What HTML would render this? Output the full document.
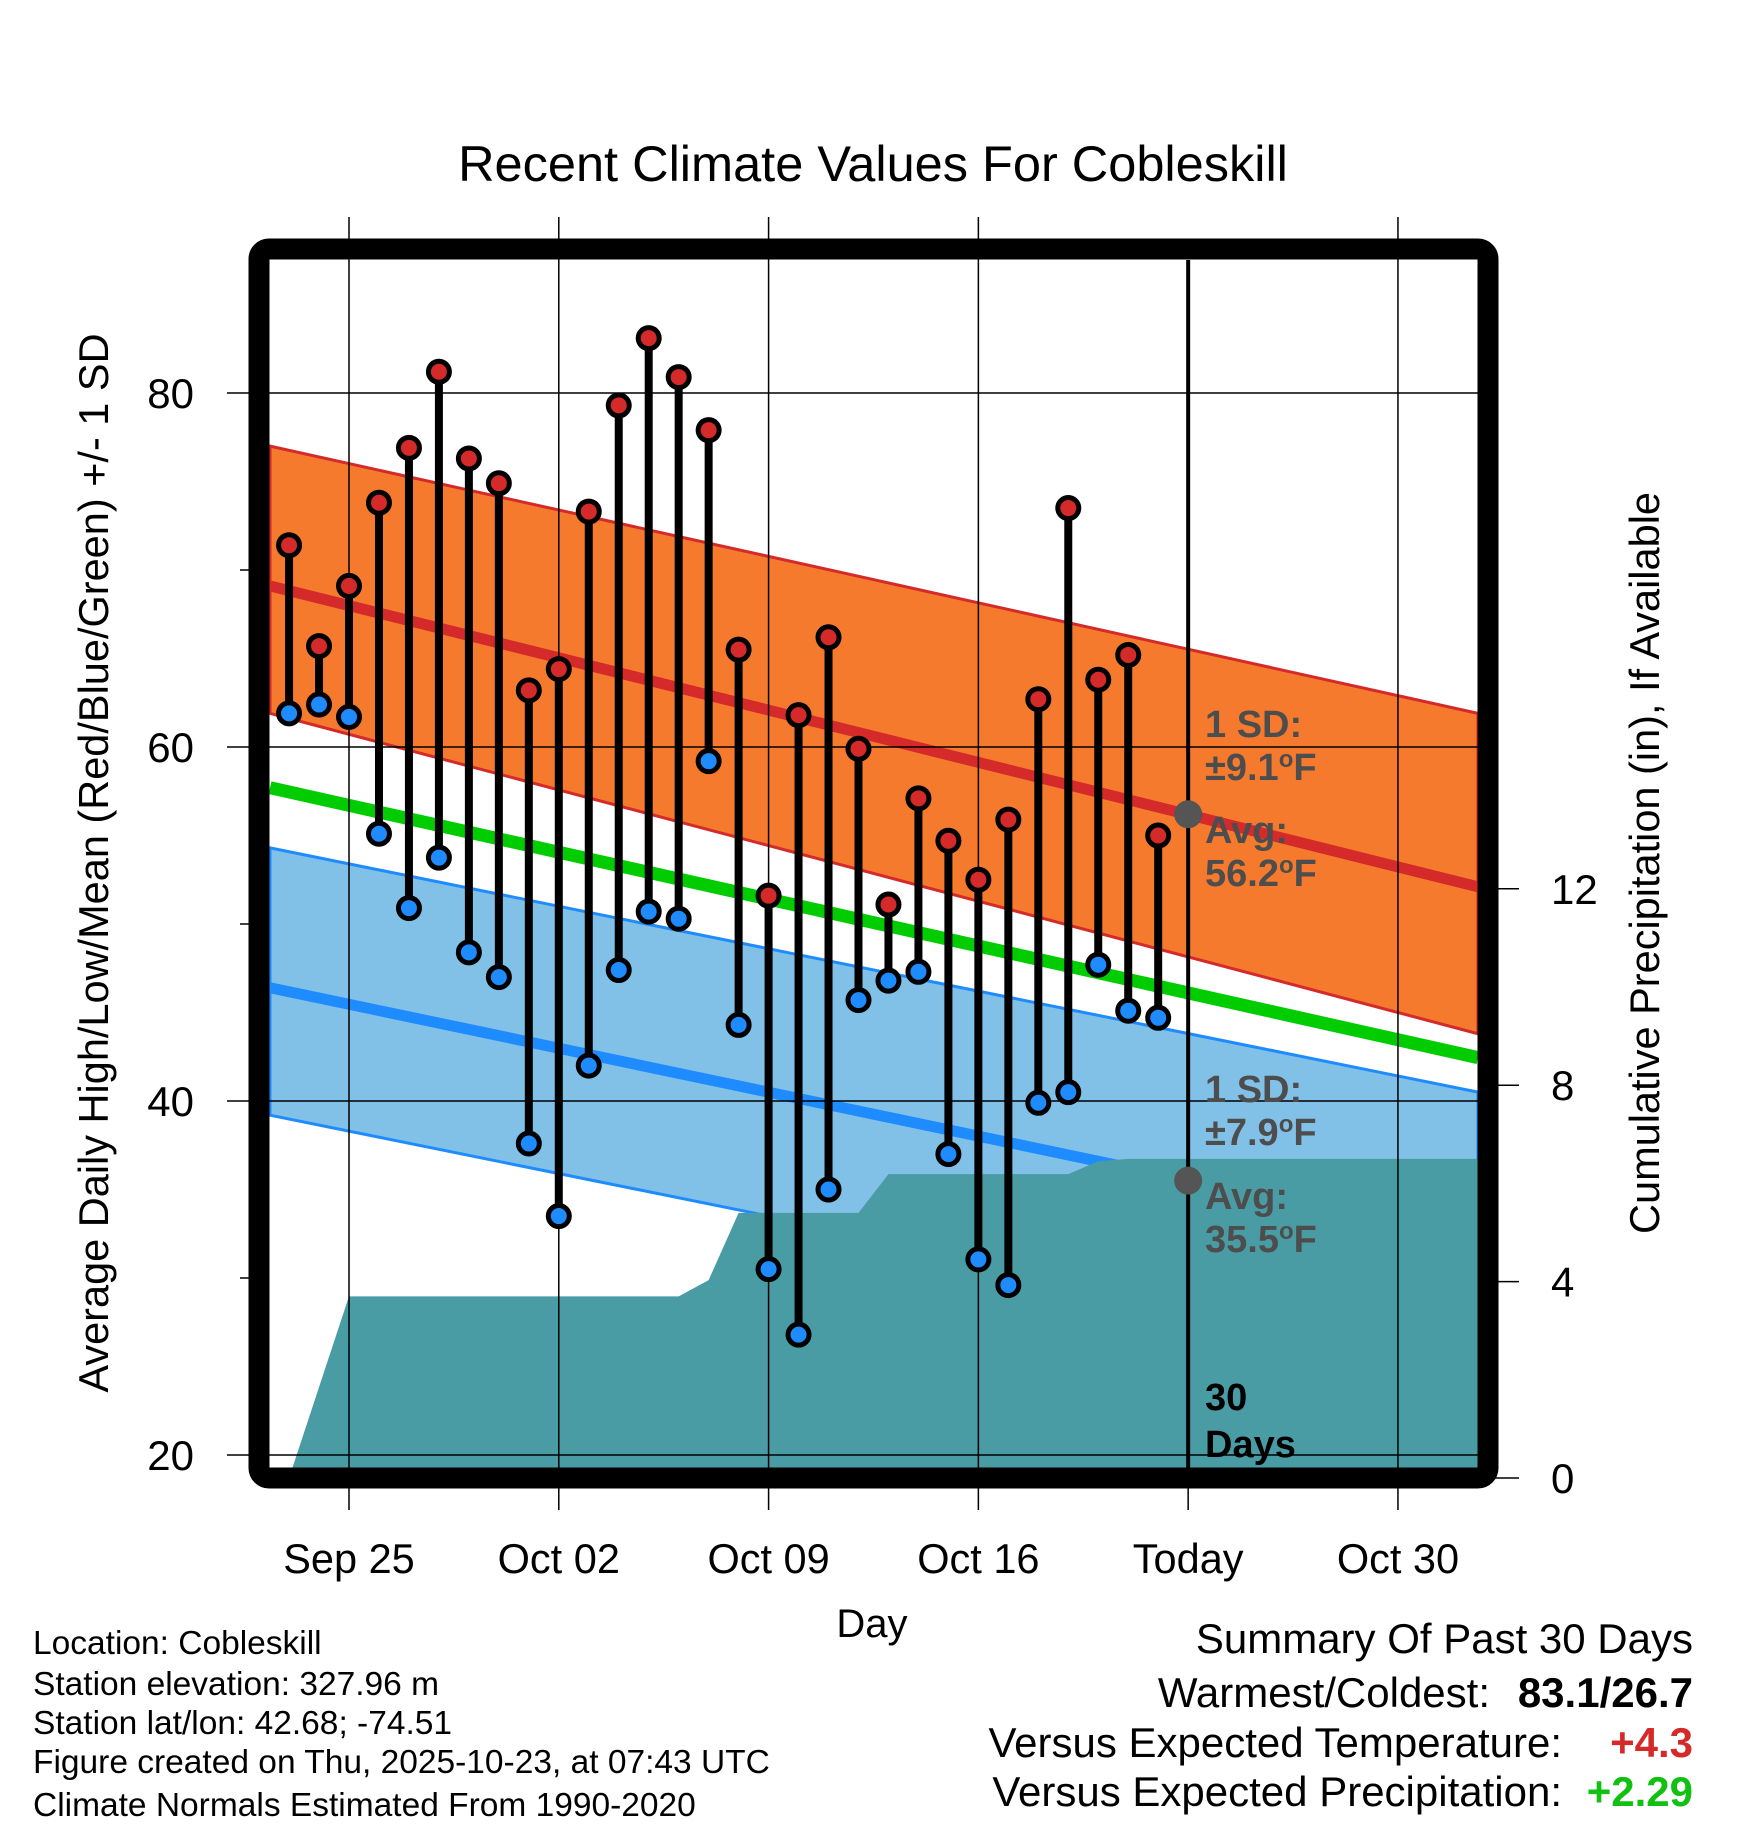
<!DOCTYPE html>
<html><head><meta charset="utf-8"><style>
html,body{margin:0;padding:0;background:#fff}
svg{display:block}
text{font-family:"Liberation Sans",Arial,sans-serif}
</style></head><body>
<svg id="chart" width="1748" height="1828" viewBox="0 0 1748 1828" xmlns="http://www.w3.org/2000/svg">
<g id="fills"></g>
<g id="grid"></g>
<g id="marks"></g>
<rect x="259" y="249" width="1229" height="1229" rx="10" fill="none" stroke="#000" stroke-width="21"/>
<g id="axes"></g>
<text x="873" y="181" font-size="50.5" text-anchor="middle">Recent Climate Values For Cobleskill</text>
<text x="872" y="1637" font-size="40" text-anchor="middle">Day</text>
<text transform="translate(108,863) rotate(-90)" font-size="41.5" text-anchor="middle">Average Daily High/Low/Mean (Red/Blue/Green) +/- 1 SD</text>
<text transform="translate(1659,863) rotate(-90)" font-size="41.5" text-anchor="middle">Cumulative Precipitation (in), If Available</text>
<g font-size="33.5">
<text x="33" y="1654">Location: Cobleskill</text>
<text x="33" y="1695">Station elevation: 327.96 m</text>
<text x="33" y="1734">Station lat/lon: 42.68; -74.51</text>
<text x="33" y="1773">Figure created on Thu, 2025-10-23, at 07:43 UTC</text>
<text x="33" y="1816">Climate Normals Estimated From 1990-2020</text>
</g>
<g font-size="42" text-anchor="end">
<text x="1693" y="1653">Summary Of Past 30 Days</text>
<text x="1490" y="1707">Warmest/Coldest:</text>
<text x="1693" y="1707" font-weight="bold">83.1/26.7</text>
<text x="1562" y="1757">Versus Expected Temperature:</text>
<text x="1693" y="1757" font-weight="bold" fill="#d42a2a">+4.3</text>
<text x="1562" y="1806">Versus Expected Precipitation:</text>
<text x="1693" y="1806" font-weight="bold" fill="#11c011">+2.29</text>
</g>
</svg>
<script>
const days = ["Sep23","Sep24","Sep25","Sep26","Sep27","Sep28","Sep29","Sep30","Oct01","Oct02","Oct03","Oct04","Oct05","Oct06","Oct07","Oct08","Oct09","Oct10","Oct11","Oct12","Oct13","Oct14","Oct15","Oct16","Oct17","Oct18","Oct19","Oct20","Oct21","Oct22"];
const highs = [71.4,65.7,69.1,73.8,76.9,81.2,76.3,74.9,63.2,64.4,73.3,79.3,83.1,80.9,77.9,65.5,51.6,61.8,66.2,59.9,51.1,57.1,54.7,52.5,55.9,62.7,73.5,63.8,65.2,55.0];
const lows = [61.9,62.4,61.7,55.1,50.9,53.75,48.4,47.0,37.6,33.5,42.0,47.4,50.7,50.3,59.2,44.3,30.5,26.8,35.0,45.7,46.8,47.3,37.0,31.05,29.6,39.9,40.5,47.7,45.1,44.7];
const precip = [0,1.85,3.7,3.7,3.7,3.7,3.7,3.7,3.7,3.7,3.7,3.7,3.7,3.7,4.03,5.4,5.4,5.4,5.4,5.4,6.19,6.19,6.19,6.19,6.19,6.19,6.19,6.45,6.5,6.5];
const normHighBand = [[77.0,61.9],[61.9,43.8]];
const normHighMean = [69.1,52.1];
const normLowBand = [[54.3,39.2],[40.5,25.4]];
const normLowMean = [46.4,32.1];
const normMean = [57.7,42.45];
const todayAvg = [56.2,35.5];
const xTickLabels = ["Sep 25","Oct 02","Oct 09","Oct 16","Today","Oct 30"];
const xTickDays = [0,7,14,21,28,35];
const yTicks = [20,40,60,80];
const y2Ticks = [0,4,8,12];

const NS="http://www.w3.org/2000/svg";
const X0=270,X1=1478,Y0=260,Y1=1468;
function x(d){return 349+d*29.97;}
function y(v){return 393+(80-v)*17.7;}
function y2(v){return 1478-v*49.1;}
function el(tag,attrs,parent,txt){const e=document.createElementNS(NS,tag);for(const k in attrs)e.setAttribute(k,attrs[k]);if(txt!==undefined)e.textContent=txt;parent.appendChild(e);return e;}
const fills=document.getElementById('fills'),grid=document.getElementById('grid'),marks=document.getElementById('marks'),axes=document.getElementById('axes');

function band(b,fill,stroke,name){
  const p=el('polygon',{points:`${X0},${y(b[0][0])} ${X1},${y(b[1][0])} ${X1},${y(b[1][1])} ${X0},${y(b[0][1])}`,fill:fill,stroke:stroke,'stroke-width':3},fills);
  
  
}
band(normHighBand,'#f57a2e','#d42a2a','high-sd-band');
band(normLowBand,'#82c1e7','#1e8cff','low-sd-band');
function line(v,color,w,name){
  const l=el('line',{x1:X0,y1:y(v[0]),x2:X1,y2:y(v[1]),stroke:color,'stroke-width':w},fills);
  
  
}
line(normMean,'#00cc00',13,'normal-mean-line');
line(normHighMean,'#d42a2a',11,'normal-high-line');
line(normLowMean,'#1e8cff',11,'normal-low-line');

let pts=`${X0},1468 `;
precip.forEach((v,i)=>{pts+=`${x(i-2)},${y2(v)} `;});
pts+=`${X1},${y2(precip[precip.length-1])} ${X1},1468`;
const pa=el('polygon',{points:pts,fill:'#4a9ca4'},fills);



xTickDays.forEach((d,i)=>{
  if(xTickLabels[i]!=="Today"){
    const g=el('line',{x1:x(d),y1:217,x2:x(d),y2:Y1,stroke:'#000','stroke-width':1.5},grid);
    
    
  }
  const t=el('line',{x1:x(d),y1:1478,x2:x(d),y2:1510,stroke:'#000','stroke-width':1.5},axes);
  
  
  const lb=el('text',{x:x(d),y:1573,'font-size':41.5,'text-anchor':'middle'},axes,xTickLabels[i]);
  
  
});
yTicks.forEach(v=>{
  const g=el('line',{x1:227,y1:y(v),x2:X1,y2:y(v),stroke:'#000','stroke-width':1.5},grid);
  
  
  const lb=el('text',{x:194,y:y(v)+15,'font-size':42,'text-anchor':'end'},axes,String(v));
  
  
});
[30,50,70].forEach(v=>{
  const t=el('line',{x1:240,y1:y(v),x2:252,y2:y(v),stroke:'#000','stroke-width':1.5},axes);
  
  
});
y2Ticks.forEach(v=>{
  const t=el('line',{x1:1495,y1:y2(v),x2:1519,y2:y2(v),stroke:'#000','stroke-width':1.5},axes);
  
  
  const lb=el('text',{x:1551,y:y2(v)+15,'font-size':42},axes,String(v));
  
  
});

const tl=el('line',{x1:x(28),y1:Y0,x2:x(28),y2:Y1,stroke:'#000','stroke-width':4},grid);


todayAvg.forEach((v,i)=>{
  const c=el('circle',{cx:x(28),cy:y(v),r:14,fill:'#555'},grid);
  
  
});
function lbl(txt,yy,name,col){
  const t=el('text',{x:1205,y:yy,'font-size':38,'font-weight':'bold',fill:col||'#4d4d4d'},grid,'');
  
  
  t.innerHTML=txt;
}
lbl('1 SD:',737,'high-sd-label');
lbl('±9.1<tspan dy="-13" font-size="24">o</tspan><tspan dy="13">F</tspan>',780,'high-sd-value');
lbl('Avg:',843,'high-avg-label');
lbl('56.2<tspan dy="-13" font-size="24">o</tspan><tspan dy="13">F</tspan>',886,'high-avg-value');
lbl('1 SD:',1102,'low-sd-label');
lbl('±7.9<tspan dy="-13" font-size="24">o</tspan><tspan dy="13">F</tspan>',1145,'low-sd-value');
lbl('Avg:',1209,'low-avg-label');
lbl('35.5<tspan dy="-13" font-size="24">o</tspan><tspan dy="13">F</tspan>',1252,'low-avg-value');
lbl('30',1410,'days-count-label','#000');
lbl('Days',1457,'days-label','#000');

days.forEach((d,i)=>{
  const xx=x(i-2);
  const g=el('g',{},marks);
  
  
  el('line',{x1:xx,y1:y(highs[i]),x2:xx,y2:y(lows[i]),stroke:'#000','stroke-width':8},g);
  const h=el('circle',{cx:xx,cy:y(highs[i]),r:10.5,fill:'#d42a2a',stroke:'#000','stroke-width':5},g);
  
  
  const l=el('circle',{cx:xx,cy:y(lows[i]),r:10.5,fill:'#1e8cff',stroke:'#000','stroke-width':5},g);
  
  
});
</script>
</body></html>
